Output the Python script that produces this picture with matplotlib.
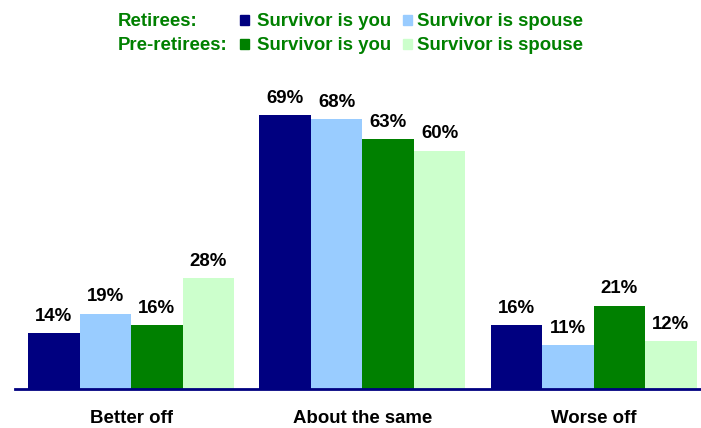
import numpy as np
import matplotlib.pyplot as plt

plt.rcParams['font.family'] = ['Liberation Sans', 'DejaVu Sans']
plt.rcParams['font.weight'] = 'bold'

categories = ['Better off', 'About the same', 'Worse off']
series = ['Survivor is you', 'Survivor is spouse', 'Survivor is you', 'Survivor is spouse']
groups = ['Retirees:', 'Pre-retirees:']
ret_you = [14, 69, 16]
ret_spouse = [19, 68, 11]
pre_you = [16, 63, 21]
pre_spouse = [28, 60, 12]

colors = ['#000080', '#99ccff', '#008000', '#ccffcc']
values = [ret_you, ret_spouse, pre_you, pre_spouse]

FS = 13.4
W, H = 701, 428
fig = plt.figure(figsize=(W / 100, H / 100), dpi=100)
ax = fig.add_axes([15 / W, (H - 389) / H, 685 / W, (389 - 71.4) / H])

x = np.arange(len(categories))
w = 0.2227
for i, (vals, c) in enumerate(zip(values, colors)):
    pos = x + (i - 1.5) * w
    bars = ax.bar(pos, vals, w, color=c, linewidth=0)
    for b, v in zip(bars, vals):
        ax.annotate(f'{v}%', (b.get_x() + w / 2, v), xytext=(0, 6),
                    textcoords='offset points', ha='center', va='bottom',
                    fontsize=FS, fontweight='bold', color='black')

ax.set_xlim(-0.502, 2.46)
ax.set_ylim(0, 80)
for s in ['top', 'left', 'right']:
    ax.spines[s].set_visible(False)
ax.spines['bottom'].set_color('#000080')
ax.spines['bottom'].set_linewidth(2)
ax.set_yticks([])
ax.set_xticks(x)
ax.set_xticklabels(categories, fontsize=FS, fontweight='bold')
ax.tick_params(axis='x', length=0, pad=15)

# two-row legend drawn as figure text
green = '#008000'
rows = [(19, groups[0], colors[0], colors[1]), (43, groups[1], colors[2], colors[3])]
for y, name, c1, c2 in rows:
    yf = 1 - y / H
    sq = yf - 5.5 / H
    fig.text(118 / W, yf, name, color=green, fontsize=FS, fontweight='bold',
             va='center_baseline', ha='left')
    fig.patches.append(plt.Rectangle((240 / W, sq), 9 / W, 9 / H,
                                     transform=fig.transFigure, color=c1, figure=fig))
    fig.text(257 / W, yf, series[0], color=green, fontsize=FS, fontweight='bold',
             va='center_baseline', ha='left')
    fig.patches.append(plt.Rectangle((403 / W, sq), 9 / W, 9 / H,
                                     transform=fig.transFigure, color=c2, figure=fig))
    fig.text(417 / W, yf, series[1], color=green, fontsize=FS, fontweight='bold',
             va='center_baseline', ha='left')

fig.savefig('out.png', dpi=100)
